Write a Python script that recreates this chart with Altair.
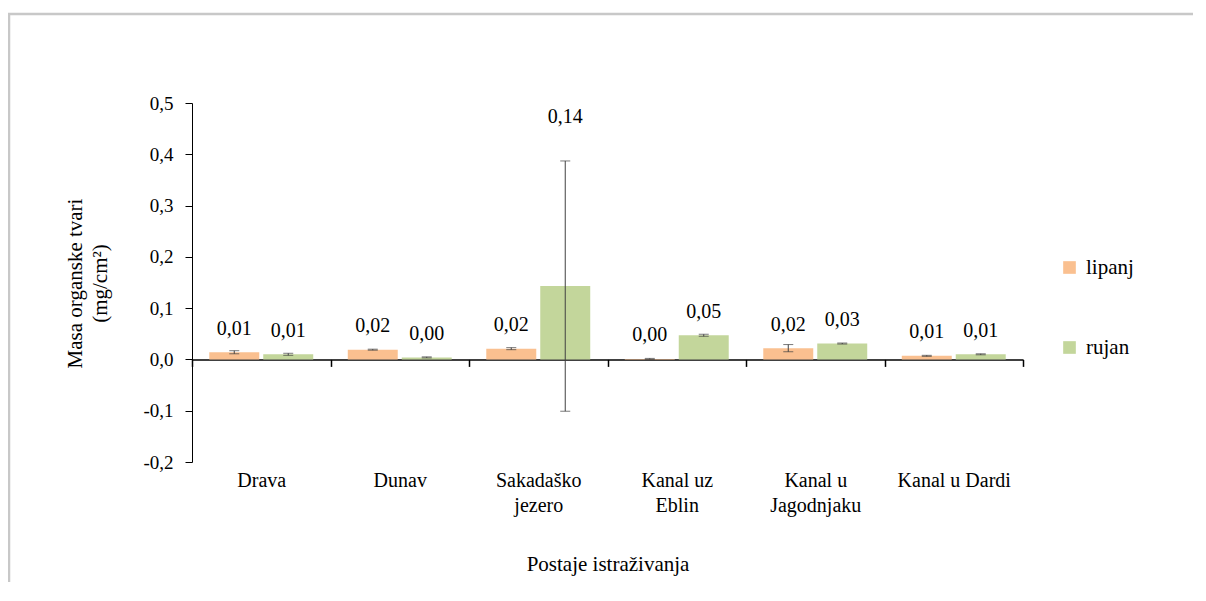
import altair as alt
import pandas as pd

stations = ["Drava", "Dunav", "Sakadaško\njezero", "Kanal uz\nEblin", "Kanal u\nJagodnjaku", "Kanal u Dardi"]
series = ["lipanj", "rujan"]
lipanj = [0.014, 0.019, 0.021, 0.001, 0.022, 0.007]
lipanj_err = [0.003, 0.001, 0.002, 0.001, 0.007, 0.001]
rujan = [0.010, 0.004, 0.143, 0.047, 0.031, 0.010]
rujan_err = [0.002, 0.001, 0.244, 0.002, 0.001, 0.001]
y_ticks = [-0.2, -0.1, 0.0, 0.1, 0.2, 0.3, 0.4, 0.5]
colors = ["#FAC090", "#C3D69B"]

rows = []
for s, vals, errs in [(series[0], lipanj, lipanj_err), (series[1], rujan, rujan_err)]:
    for st, v, e in zip(stations, vals, errs):
        rows.append({
            "station": st, "series": s, "value": v, "lo": v - e, "hi": v + e,
            "label": f"{v:.2f}".replace(".", ","),
            "label_y": v if e < 0.1 else v + e + 0.04,
        })
df = pd.DataFrame(rows)

FONT = "Liberation Serif, Times New Roman, Tinos, DejaVu Serif, serif"

x_enc = alt.X("station:N", sort=stations, scale=alt.Scale(paddingInner=0, paddingOuter=0),
              axis=alt.Axis(title="Postaje istraživanja", offset=-102.6, tickBand="extent",
                            domainColor="black", domainWidth=1.5, tickColor="black", tickSize=7,
                            tickWidth=1.5, labelPadding=104, labelAngle=0, labelBaseline="top",
                            labelExpr="split(datum.label, '\\n')", labelFont=FONT, labelFontSize=20,
                            labelLineHeight=25, labelColor="black", titleFont=FONT, titleFontSize=21,
                            titleFontWeight="normal", titleColor="black", titleY=205,
                            titleBaseline="middle", grid=False))
xoff = alt.XOffset("series:N", sort=series, scale=alt.Scale(paddingInner=0.074, paddingOuter=0.32))
y_scale = alt.Scale(domain=[-0.2, 0.5], nice=False)

base = alt.Chart(df)

bars = base.mark_bar().encode(
    x=x_enc, xOffset=xoff,
    y=alt.Y("value:Q", scale=y_scale,
            axis=alt.Axis(values=y_ticks, title=["Masa organske tvari", "(mg/cm²)"],
                          labelExpr="(datum.value < 0 ? '-' : '') + replace(format(abs(datum.value), '.1f'), '.', ',')",
                          labelFont=FONT, labelFontSize=19, labelColor="black", labelPadding=12,
                          domainColor="black", tickColor="black", tickSize=7, grid=False,
                          titleFont=FONT, titleFontSize=21, titleFontWeight="normal", titleColor="black",
                          titleLineHeight=25, titleX=-117, titleY=180, titleBaseline="middle")),
    y2=alt.datum(0),
    color=alt.Color("series:N", sort=series, scale=alt.Scale(domain=series, range=colors),
                    legend=alt.Legend(title=None, orient="none", legendX=867, legendY=154,
                                      symbolType="square", symbolSize=160, symbolStrokeWidth=0,
                                      labelFont=FONT, labelFontSize=21, labelColor="black",
                                      labelOffset=6, rowPadding=58, padding=0)),
)

err_rule = base.mark_rule(color="#404040", strokeWidth=1).encode(
    x=alt.X("station:N", sort=stations), xOffset=xoff,
    y=alt.Y("lo:Q", scale=y_scale), y2="hi:Q",
)
cap_hi = base.mark_tick(color="#404040", thickness=1, size=10, orient="horizontal").encode(
    x=alt.X("station:N", sort=stations), xOffset=xoff, y=alt.Y("hi:Q", scale=y_scale))
cap_lo = base.mark_tick(color="#404040", thickness=1, size=10, orient="horizontal").encode(
    x=alt.X("station:N", sort=stations), xOffset=xoff, y=alt.Y("lo:Q", scale=y_scale))

labels = base.mark_text(font=FONT, fontSize=20, color="black", baseline="middle", dy=-23.5).encode(
    x=alt.X("station:N", sort=stations), xOffset=xoff,
    y=alt.Y("label_y:Q", scale=y_scale), text="label:N",
)

frame = alt.Chart(alt.Data(values=[{}])).mark_rect(fill=None, stroke="#c8c8c8", strokeWidth=2.5).encode(
    x=alt.value(-183), x2=alt.value(1200), y=alt.value(-89), y2=alt.value(700))

chart = alt.layer(frame, bars, err_rule, cap_hi, cap_lo, labels).properties(
    width=831, height=359,
    autosize=alt.AutoSizeParams(type="none"),
    padding={"left": 184, "top": 95, "right": 170, "bottom": 120},
).configure_view(stroke=None)

chart.save("out.html", embed_options={"renderer": "svg", "actions": False})
